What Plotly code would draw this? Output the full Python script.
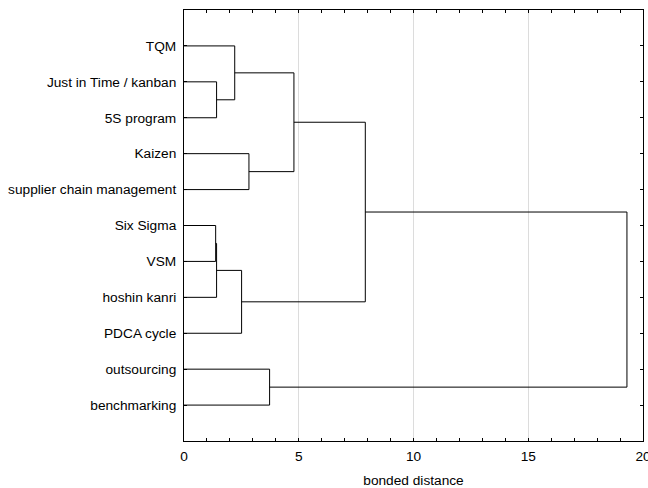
import plotly.graph_objects as go

# Leaf labels (top to bottom)
labels = ["TQM", "Just in Time / kanban", "5S program", "Kaizen",
          "supplier chain management", "Six Sigma", "VSM", "hoshin kanri",
          "PDCA cycle", "outsourcing", "benchmarking"]

# Linkage: indices < 11 are leaves, >= 11 are earlier merges (in order)
merge_left = [1, 5, 12, 0, 13, 3, 9, 14, 18, 19]
merge_right = [2, 6, 7, 11, 8, 4, 10, 16, 15, 17]
merge_height = [1.42, 1.38, 1.42, 2.21, 2.51, 2.83, 3.73, 4.79, 7.90, 19.30]

x_ticks = [0, 5, 10, 15, 20]

n = len(labels)
node_pos = {i: (0.0, i + 1.0) for i in range(n)}

fig = go.Figure()
xs, ys = [], []
for k, (a, b, h) in enumerate(zip(merge_left, merge_right, merge_height)):
    ha, ya = node_pos[a]
    hb, yb = node_pos[b]
    xs += [ha, h, h, hb, None]
    ys += [ya, ya, yb, yb, None]
    node_pos[n + k] = (h, (ya + yb) / 2)

fig.add_trace(go.Scatter(x=xs, y=ys, mode="lines",
                         line=dict(color="black", width=1),
                         hoverinfo="skip", showlegend=False))

font = dict(family="Liberation Sans, Arial, sans-serif", size=13.7, color="black")

fig.update_layout(
    width=648, height=488,
    margin=dict(l=184, r=5, t=10, b=47),
    paper_bgcolor="white", plot_bgcolor="white",
    font=font,
    showlegend=False,
    xaxis=dict(range=[0, 20], tickvals=x_ticks, ticktext=[str(v) for v in x_ticks],
               ticks="inside", ticklen=3, tickcolor="black",
               minor=dict(dtick=1, ticks="inside", ticklen=3, tickcolor="black", showgrid=False),
               showline=True, linecolor="black", linewidth=1, mirror="allticks",
               showgrid=True, gridcolor="#dcdcdc", gridwidth=1,
               zeroline=False, ticklabeloverflow="allow", ticklabelstandoff=3,
               automargin=False,
               title=dict(text="bonded distance", standoff=12, font=font)),
    yaxis=dict(range=[12, 0], tickvals=list(range(1, n + 1)), ticktext=labels,
               ticks="inside", ticklen=3, tickcolor="black",
               showline=True, linecolor="black", linewidth=1, mirror="allticks",
               showgrid=False, zeroline=False, ticklabelstandoff=4,
               automargin=False),
)

fig.write_html("out.html")
